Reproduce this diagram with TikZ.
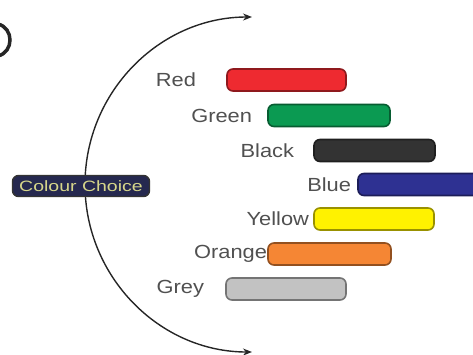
\documentclass[tikz,border=0pt]{standalone}
\usepackage{fontspec}
\setmainfont{Liberation Sans}
\usetikzlibrary{arrows.meta}
\definecolor{lblgray}{HTML}{505050}
\definecolor{cred}{HTML}{EE2A30}
\definecolor{cgreen}{HTML}{0B9A52}
\definecolor{cblack}{HTML}{333333}
\definecolor{cblue}{HTML}{2E3192}
\definecolor{cyellow}{HTML}{FFF200}
\definecolor{corange}{HTML}{F58634}
\definecolor{cgrey}{HTML}{C2C2C2}
\definecolor{choicefill}{HTML}{25284F}
\definecolor{choicetext}{HTML}{D6D68A}
\newcommand{\widetxt}[1]{\scalebox{1.15}[1]{#1}}
\begin{document}
\begin{tikzpicture}[x=1pt,y=-1pt,
  bar/.style={draw=#1!60!black, line width=1.6pt, fill=#1, rounded corners=6pt, minimum height=22pt, inner sep=0pt},
  lbl/.style={text=lblgray, font=\fontsize{19}{20}\selectfont, anchor=east, inner sep=0pt},
  choice/.style={draw=black!80, line width=1.4pt, fill=choicefill, rounded corners=6pt, text=choicetext, font=\fontsize{15}{16}\selectfont, inner sep=0pt, minimum height=21pt, minimum width=137pt}]
\useasboundingbox (0,0) rectangle (473,354);
% partial letter at top left
\draw[line width=3.5pt, black!85] (-2,24) .. controls (14,28) and (14,52) .. (-2,56);
% arc with arrows
\coordinate (top) at (258,17);
\coordinate (bot) at (252,352);
\draw[line width=1.4pt, black!85, {Stealth[length=9pt,width=7pt]}-{Stealth[length=9pt,width=7pt]}]
  (bot) arc[start angle=270, end angle=90, x radius=167pt, y radius=167.5pt];
% choice node
\node[choice] (choice) at (81,186) {\scalebox{1.3}[1]{Colour Choice}};
% bars
\node[bar=cred, minimum width=119pt] (red) at (286.5,80) {};
\node[lbl] (redl) at ([xshift=-30pt]red.west) {\widetxt{Red}};
\node[bar=cgreen, minimum width=122pt] (green) at (329,115.5) {};
\node[lbl] (greenl) at ([xshift=-15pt]green.west) {\widetxt{Green}};
\node[bar=cblack, minimum width=121pt] (black) at (374.5,150.5) {};
\node[lbl] (blackl) at ([xshift=-19pt]black.west) {\widetxt{Black}};
\node[bar=cblue, minimum width=130pt] (blue) at (423,184.5) {};
\node[lbl] (bluel) at ([xshift=-6pt]blue.west) {\widetxt{Blue}};
\node[bar=cyellow, minimum width=120pt] (yellow) at (374,219) {};
\node[lbl] (yellowl) at ([xshift=-4pt]yellow.west) {\widetxt{Yellow}};
\node[bar=corange, minimum width=123pt] (orange) at (329.5,254) {};
\node[lbl] (orangel) at ([xshift=0pt]orange.west) {\widetxt{Orange}};
\node[bar=cgrey, minimum width=120pt] (grey) at (286,289) {};
\node[lbl] (greyl) at ([xshift=-21pt]grey.west) {\widetxt{Grey}};
\end{tikzpicture}
\end{document}
